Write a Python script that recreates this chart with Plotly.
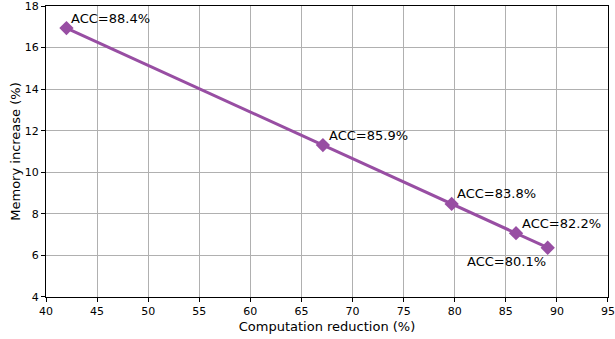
import plotly.graph_objects as go

# Trade-off between computation savings and memory overhead
computation_reduction = [42.0, 67.1, 79.7, 86.0, 89.1]
memory_increase = [16.94, 11.31, 8.48, 7.07, 6.37]
acc_labels = ["ACC=88.4%", "ACC=85.9%", "ACC=83.8%", "ACC=82.2%", "ACC=80.1%"]

x_ticks = list(range(40, 96, 5))
y_ticks = list(range(4, 19, 2))

color = "#984ea3"

fig = go.Figure()
fig.add_trace(go.Scatter(
    x=computation_reduction, y=memory_increase,
    mode="lines+markers",
    line=dict(color=color, width=3),
    marker=dict(symbol="diamond", size=11, color=color),
    showlegend=False,
))

# label placement per point (pixel offsets)
offsets = [(3, -10), (4, -10), (3, -10), (4, -10), (-83, 14)]
for x, y, t, (dx, dy) in zip(computation_reduction, memory_increase, acc_labels, offsets):
    fig.add_annotation(x=x, y=y, text=t, showarrow=False,
                       xanchor="left", yanchor="middle",
                       xshift=dx, yshift=-dy,
                       font=dict(size=13, color="black"))

axis_common = dict(
    showline=True, linecolor="black", linewidth=1, mirror=True,
    showgrid=True, gridcolor="#b0b0b0", gridwidth=1,
    ticks="outside", ticklen=4, tickcolor="black",
    tickfont=dict(size=11, color="black"),
    ticklabeloverflow="allow",
    automargin=False,
    zeroline=False,
)

fig.update_layout(
    width=615, height=339,
    margin=dict(l=46, r=7, t=6, b=42),
    paper_bgcolor="white", plot_bgcolor="white",
    font=dict(family="DejaVu Sans", color="black"),
    xaxis=dict(range=[39.999, 95.001], tickvals=x_ticks,
               title=dict(text="Computation reduction (%)", font=dict(size=13), standoff=4),
               **axis_common),
    yaxis=dict(range=[3.9995, 18.0005], tickvals=y_ticks,
               title=dict(text="Memory increase (%)", font=dict(size=13), standoff=1),
               **axis_common),
)

fig.write_html("out.html")
